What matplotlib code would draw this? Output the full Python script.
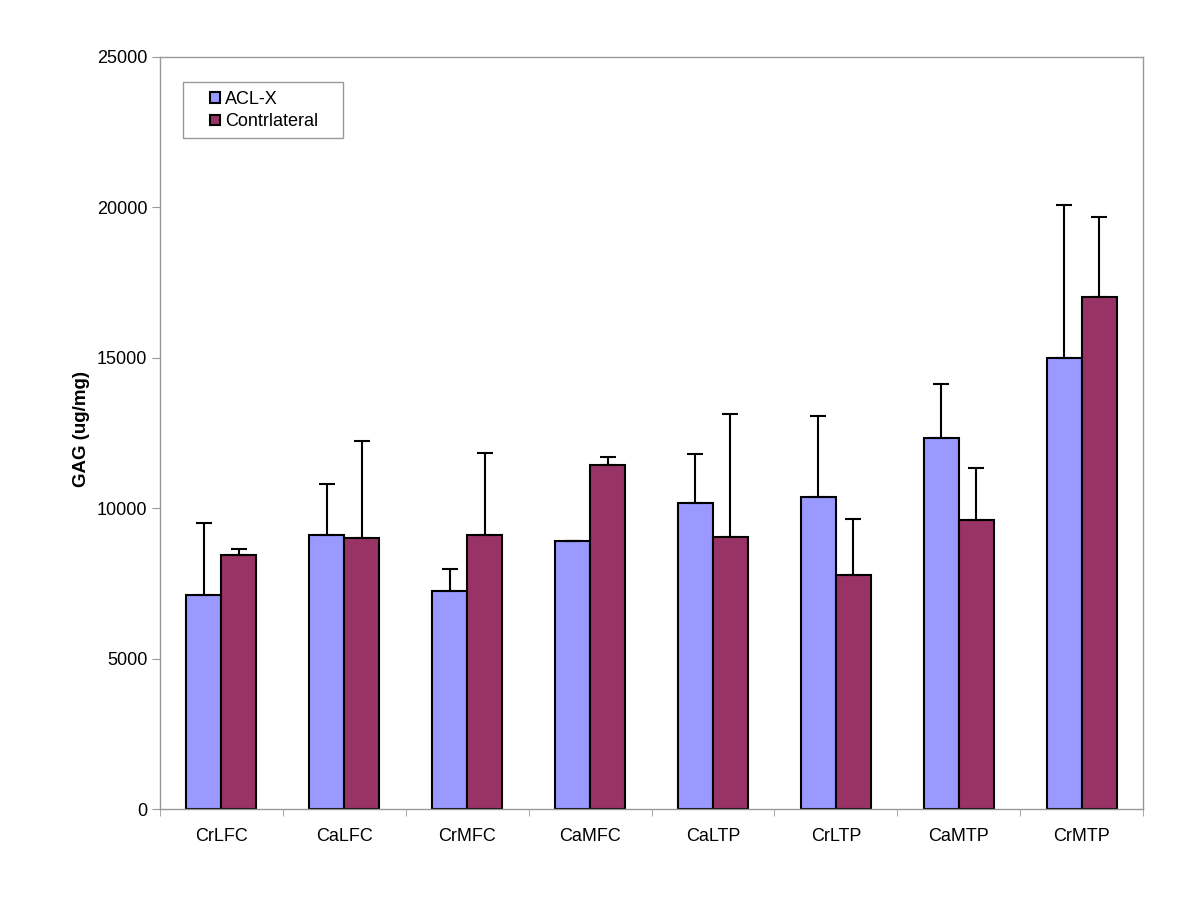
import matplotlib.pyplot as plt
from matplotlib.patches import Rectangle
import numpy as np

plt.rcParams['font.family'] = ['Liberation Sans', 'DejaVu Sans']

sites = ['CrLFC', 'CaLFC', 'CrMFC', 'CaMFC', 'CaLTP', 'CrLTP', 'CaMTP', 'CrMTP']
aclx = [7110, 9120, 7240, 8920, 10170, 10360, 12320, 14990]
aclx_err = [2390, 1680, 750, 0, 1640, 2710, 1810, 5090]
contra = [8430, 9020, 9120, 11450, 9040, 7790, 9610, 17030]
contra_err = [220, 3200, 2720, 260, 4080, 1860, 1720, 2660]

fig = plt.figure(figsize=(12, 9.08), dpi=100)
ax = fig.add_axes([160 / 1200, 1 - 809 / 908, 983 / 1200, 752 / 908])

x = np.arange(len(sites))
w = 0.285
err_kw = dict(ecolor='black', elinewidth=1.5, capsize=6, capthick=1.5)
ax.bar(x - w / 2, aclx, w, color='#9999ff', edgecolor='black', linewidth=1.5,
       yerr=[np.zeros(len(aclx)), aclx_err], error_kw=err_kw, label='ACL-X', zorder=2)
ax.bar(x + w / 2, contra, w, color='#993366', edgecolor='black', linewidth=1.5,
       yerr=[np.zeros(len(contra)), contra_err], error_kw=err_kw, label='Contrlateral', zorder=2)

ax.set_xlim(-0.5, len(sites) - 0.5)
ax.set_ylim(0, 25000)
ax.set_yticks(range(0, 25001, 5000))
ax.set_xticks(x)
ax.set_xticklabels(sites)
ax.set_xticks(np.arange(-0.5, len(sites)), minor=True)
ax.tick_params(axis='x', which='major', length=0, pad=14, labelsize=13)
ax.tick_params(axis='x', which='minor', length=5, color='#999999')
ax.tick_params(axis='y', length=6, color='#999999', labelsize=13, pad=3)
for s in ax.spines.values():
    s.set_color('#999999')
    s.set_linewidth(1)

ax.set_ylabel('GAG (ug/mg)', fontsize=13.5, fontweight='bold')
ax.yaxis.set_label_coords(-0.071, 0.505)

# legend box drawn separately to match the wide padding
ax.add_patch(Rectangle((23 / 983, 1 - 81 / 752), 160 / 983, 56 / 752, transform=ax.transAxes,
                       facecolor='white', edgecolor='#999999', linewidth=1, zorder=3))
leg = ax.legend(loc='upper left', bbox_to_anchor=(50 / 983, 1 - 34 / 752),
                fontsize=13, frameon=False, handlelength=0.55, handleheight=0.55,
                handletextpad=0.3, borderpad=0, borderaxespad=0, labelspacing=0.3)
leg.set_zorder(4)

fig.savefig('out.png', dpi=100)
